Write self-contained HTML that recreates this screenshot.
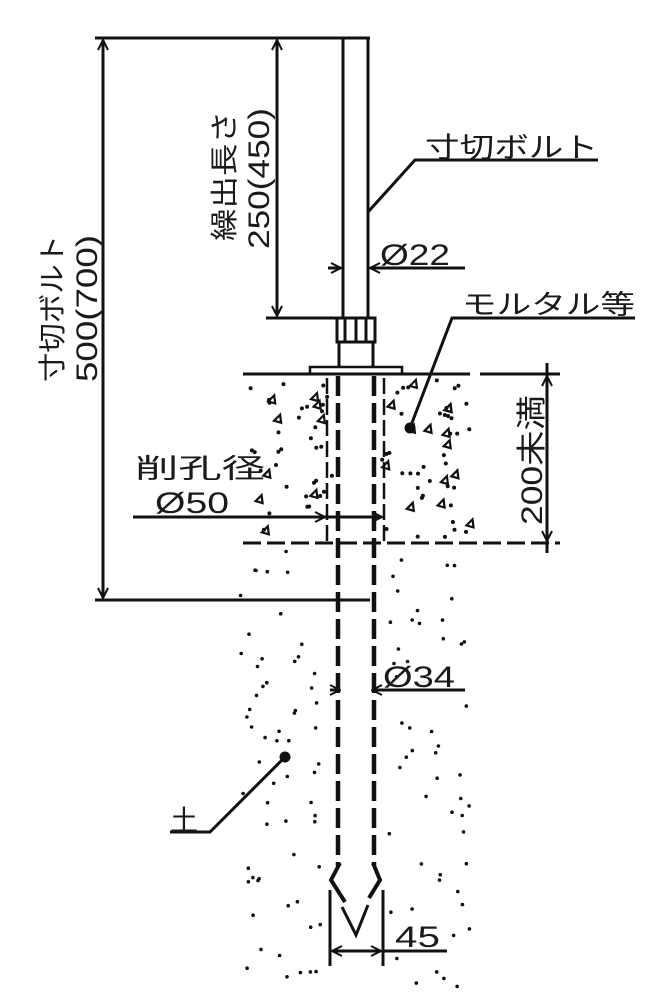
<!DOCTYPE html>
<html><head><meta charset="utf-8"><style>
html,body{margin:0;padding:0;background:#fff;}
svg{display:block;}
text{font-family:"Liberation Sans Narrow","Liberation Sans","Noto Sans CJK JP",sans-serif;fill:#1a1a1a;font-weight:normal;}
</style></head><body>
<svg id="s" width="657" height="1007" viewBox="0 0 657 1007" xmlns="http://www.w3.org/2000/svg">
<defs>
<marker id="a" viewBox="0 0 12 12" refX="11" refY="6" markerWidth="12" markerHeight="12" markerUnits="userSpaceOnUse" orient="auto-start-reverse"><path d="M1,1 L11,6 L1,11" fill="none" stroke="#111" stroke-width="2"/></marker>
</defs>
<g stroke="#111" fill="none" stroke-width="3">
<line x1="95" y1="38" x2="370" y2="38"/>
<line x1="343" y1="38" x2="343" y2="318"/>
<line x1="368" y1="38" x2="368" y2="318"/>
<rect x="337" y="318" width="38" height="24"/>
<line x1="345" y1="318" x2="345" y2="342"/><line x1="356" y1="318" x2="356" y2="342"/><line x1="366" y1="318" x2="366" y2="342"/>
<line x1="339" y1="342" x2="339" y2="367"/><line x1="373" y1="342" x2="373" y2="367"/>
<rect x="310" y="367" width="92" height="7" stroke-width="2.5"/>
<line x1="243" y1="374" x2="470" y2="374"/>
<line x1="480" y1="374" x2="560" y2="374"/>
<line x1="243" y1="543" x2="560" y2="543" stroke-dasharray="18,6"/>
<line x1="327" y1="378" x2="327" y2="543" stroke-dasharray="16,5" stroke-width="2.5"/>
<line x1="384" y1="378" x2="384" y2="543" stroke-dasharray="16,5" stroke-width="2.5"/>
<line x1="338" y1="376" x2="338" y2="866" stroke-dasharray="20,7" stroke-width="4.5"/>
<line x1="374" y1="376" x2="374" y2="866" stroke-dasharray="20,7" stroke-width="4.5"/>
<polyline points="340,863 331,880 345,902" stroke-width="4"/>
<polyline points="373,863 380,880 369,898" stroke-width="4"/>
<polyline points="342,907 356,935 368,905" stroke-width="3"/>
<polyline points="345,905 356,929 365,905" stroke="#fff" stroke-width="1"/>
<line x1="103" y1="40" x2="103" y2="598" marker-start="url(#a)" marker-end="url(#a)"/>
<line x1="95" y1="600" x2="370" y2="600"/>
<line x1="277" y1="40" x2="277" y2="316" marker-start="url(#a)" marker-end="url(#a)"/>
<line x1="266" y1="318" x2="340" y2="318"/>
<line x1="547" y1="363" x2="547" y2="553" />
<line x1="547" y1="376" x2="547" y2="541" marker-start="url(#a)" marker-end="url(#a)"/>
<polyline points="598,160 415,160 368,212"/>
<line x1="328" y1="268" x2="341" y2="268" marker-end="url(#a)"/>
<line x1="465" y1="268" x2="370" y2="268" marker-end="url(#a)"/>
<polyline points="635,318 452,318 410,428"/>
<line x1="133" y1="517" x2="325" y2="517" marker-end="url(#a)"/>
<line x1="325" y1="517" x2="382" y2="517" marker-end="url(#a)"/>
<line x1="330" y1="690" x2="340" y2="690" marker-end="url(#a)"/>
<line x1="465" y1="690" x2="372" y2="690" marker-end="url(#a)"/>
<polyline points="170,832 210,832 285,757"/>
<line x1="330" y1="890" x2="330" y2="966"/>
<line x1="383" y1="890" x2="383" y2="966"/>
<line x1="332" y1="951" x2="381" y2="951" marker-start="url(#a)" marker-end="url(#a)"/>
<line x1="383" y1="951" x2="447" y2="951"/>
</g>
<circle cx="410" cy="428" r="5.5" fill="#111"/>
<circle cx="285" cy="757" r="5.5" fill="#111"/>
<g id="dots" fill="#111"></g>
<text x="425" y="157" font-size="28" textLength="173" lengthAdjust="spacingAndGlyphs">寸切ボルト</text>
<text x="380" y="265" font-size="30" textLength="70" lengthAdjust="spacingAndGlyphs">Ø22</text>
<text x="462" y="314" font-size="27" textLength="173" lengthAdjust="spacingAndGlyphs">モルタル等</text>
<text x="135" y="478" font-size="27" textLength="130" lengthAdjust="spacingAndGlyphs">削孔径</text>
<text x="155" y="513" font-size="30" textLength="74" lengthAdjust="spacingAndGlyphs">Ø50</text>
<text x="383" y="687" font-size="30" textLength="72" lengthAdjust="spacingAndGlyphs">Ø34</text>
<text x="170" y="830" font-size="28">土</text>
<text x="395" y="947" font-size="30" textLength="45" lengthAdjust="spacingAndGlyphs">45</text>
<text transform="translate(62,382) rotate(-90)" font-size="28" textLength="147" lengthAdjust="spacingAndGlyphs">寸切ボルト</text>
<text transform="translate(97,382) rotate(-90)" font-size="30" textLength="147" lengthAdjust="spacingAndGlyphs">500(700)</text>
<text transform="translate(234,241) rotate(-90)" font-size="28" textLength="130" lengthAdjust="spacingAndGlyphs">繰出長さ</text>
<text transform="translate(269,249) rotate(-90)" font-size="30" textLength="141" lengthAdjust="spacingAndGlyphs">250(450)</text>
<text transform="translate(542,525) rotate(-90)" font-size="30" textLength="130" lengthAdjust="spacingAndGlyphs">200未満</text>
</svg>
<script>
var s=12345;function r(){s=(s*16807)%2147483647;return s/2147483647;}
var g=document.getElementById('dots'),h='';
function ok(x){return !(x>322&&x<389);}
for(var i=0;i<80;i++){var x=248+r()*222,y=380+r()*160;if(x>333&&x<379)continue;h+='<circle cx="'+x.toFixed(1)+'" cy="'+y.toFixed(1)+'" r="2"/>';}
for(var i=0;i<32;i++){var x=250+r()*218,y=382+r()*155;if(x>333&&x<379)continue;h+='<path d="M'+x.toFixed(1)+','+y.toFixed(1)+' l6,-6 l1,8 z" fill="none" stroke="#111" stroke-width="2.2"/>';}
for(var i=0;i<150;i++){var x=240+r()*232,y=550+r()*440;if(!ok(x))continue;h+='<circle cx="'+x.toFixed(1)+'" cy="'+y.toFixed(1)+'" r="1.8"/>';}
g.innerHTML=h;
</script>
</body></html>
